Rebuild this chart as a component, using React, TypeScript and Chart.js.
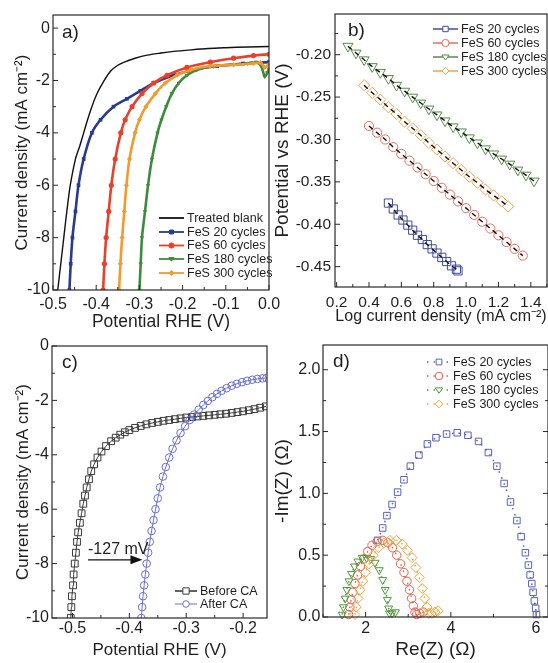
import React, { useEffect, useRef } from 'react';
import { Chart, registerables } from 'chart.js';

Chart.register(...registerables);

const FONT = '"Liberation Sans", Arial, Helvetica, sans-serif';
const INK = '#1f1f1f';

// ---------------- a) polarization curves ----------------
const aLabels = ['Treated blank', 'FeS 20 cycles', 'FeS 60 cycles', 'FeS 180 cycles', 'FeS 300 cycles'];
const aColors = ['#111111', '#2b3a8f', '#e8402a', '#3d8b3d', '#f39a2e'];
const aBlankV = [-0.489, -0.482, -0.475, -0.468, -0.46, -0.448, -0.438, -0.429, -0.42, -0.41, -0.398, -0.385, -0.367, -0.35, -0.335, -0.31, -0.282, -0.25, -0.221, -0.18, -0.14, -0.1, -0.05, 0.0];
const aBlankJ = [-10, -9, -8, -7, -6, -5, -4.5, -4, -3.5, -3.0, -2.5, -2.1, -1.65, -1.42, -1.3, -1.15, -1.03, -0.95, -0.89, -0.83, -0.78, -0.75, -0.72, -0.7];
const aFeS20V = [-0.462, -0.459, -0.455, -0.448, -0.441, -0.429, -0.41, -0.39, -0.36, -0.329, -0.298, -0.267, -0.221, -0.175, -0.12, -0.06, 0.0];
const aFeS20J = [-10, -9, -8, -7, -6, -5, -4, -3.5, -3, -2.7, -2.4, -2.1, -1.8, -1.6, -1.45, -1.35, -1.3];
const aFeS60V = [-0.384, -0.381, -0.377, -0.371, -0.365, -0.356, -0.343, -0.333, -0.317, -0.294, -0.267, -0.236, -0.19, -0.136, -0.082, -0.036, 0.0];
const aFeS60J = [-10, -9, -8, -7, -6, -5, -4, -3.5, -3, -2.5, -2.1, -1.8, -1.5, -1.3, -1.15, -1.05, -1.0];
const aFeS180V = [-0.3, -0.297, -0.294, -0.287, -0.28, -0.271, -0.258, -0.249, -0.238, -0.225, -0.209, -0.19, -0.167, -0.128, -0.082, -0.05, -0.03, -0.018, -0.01, -0.004, 0.0];
const aFeS180J = [-10, -9, -8, -7, -6, -5, -4, -3.5, -3, -2.5, -2.1, -1.8, -1.6, -1.45, -1.4, -1.35, -1.3, -1.45, -1.85, -1.7, -1.55];
const aFeS300V = [-0.347, -0.344, -0.34, -0.335, -0.33, -0.323, -0.31, -0.3, -0.285, -0.263, -0.24, -0.213, -0.182, -0.136, -0.082, -0.036, -0.02, -0.01, 0.0];
const aFeS300J = [-10, -9, -8, -7, -6, -5, -4, -3.5, -3, -2.5, -2.1, -1.8, -1.6, -1.45, -1.4, -1.35, -1.32, -1.5, -1.38];
const aXTicks = [-0.5, -0.4, -0.3, -0.2, -0.1, 0.0];
const aYTicks = [-10, -8, -6, -4, -2, 0];

// ---------------- b) Tafel plots ----------------
const bLabels = ['FeS 20 cycles', 'FeS 60 cycles', 'FeS 180 cycles', 'FeS 300 cycles'];
const bColors = ['#454c9c', '#e07060', '#5b8a4c', '#f0a254'];
const b20X = [0.52, 0.55, 0.58, 0.61, 0.64, 0.67, 0.7, 0.73, 0.76, 0.79, 0.82, 0.85, 0.88, 0.91, 0.94, 0.95];
const b20Y = [-0.375, -0.382, -0.389, -0.395, -0.401, -0.407, -0.413, -0.418, -0.424, -0.429, -0.434, -0.439, -0.444, -0.449, -0.453, -0.455];
const b60X = [0.4, 0.45, 0.5, 0.55, 0.6, 0.65, 0.7, 0.75, 0.8, 0.85, 0.9, 0.95, 1.0, 1.05, 1.1, 1.15, 1.2, 1.25, 1.3, 1.35];
const b60Y = [-0.284, -0.292, -0.3, -0.309, -0.317, -0.325, -0.333, -0.341, -0.349, -0.357, -0.365, -0.373, -0.381, -0.389, -0.397, -0.405, -0.413, -0.421, -0.429, -0.437];
const b180X = [0.27, 0.32, 0.37, 0.42, 0.47, 0.52, 0.57, 0.62, 0.67, 0.72, 0.77, 0.82, 0.87, 0.92, 0.97, 1.02, 1.07, 1.12, 1.17, 1.22, 1.27, 1.32, 1.37, 1.42];
const b180Y = [-0.19, -0.198, -0.206, -0.214, -0.221, -0.228, -0.236, -0.243, -0.25, -0.257, -0.264, -0.271, -0.278, -0.285, -0.291, -0.298, -0.304, -0.311, -0.317, -0.323, -0.329, -0.336, -0.342, -0.349];
const b300X = [0.37, 0.42, 0.47, 0.52, 0.57, 0.62, 0.67, 0.72, 0.77, 0.82, 0.87, 0.92, 0.97, 1.02, 1.07, 1.12, 1.17, 1.22, 1.26];
const b300Y = [-0.236, -0.245, -0.253, -0.262, -0.27, -0.279, -0.287, -0.295, -0.304, -0.312, -0.32, -0.328, -0.336, -0.344, -0.351, -0.359, -0.366, -0.373, -0.379];
const bXTicks = [0.2, 0.4, 0.6, 0.8, 1.0, 1.2, 1.4];
const bYTicks = [-0.45, -0.4, -0.35, -0.3, -0.25, -0.2];

// ---------------- c) before / after CA ----------------
const cLabels = ['Before CA', 'After CA'];
const cColors = ['#3a3a3a', '#6a6fcf'];
const cBeforeV = [-0.503, -0.502, -0.501, -0.499, -0.498, -0.496, -0.494, -0.492, -0.49, -0.487, -0.484, -0.481, -0.478, -0.475, -0.471, -0.467, -0.462, -0.456, -0.449, -0.441, -0.432, -0.424, -0.416, -0.408, -0.4, -0.39, -0.38, -0.37, -0.36, -0.35, -0.34, -0.33, -0.32, -0.31, -0.3, -0.29, -0.28, -0.27, -0.26, -0.25, -0.24, -0.23, -0.22, -0.21, -0.2, -0.19, -0.18, -0.17, -0.16];
const cBeforeJ = [-10.0, -9.6, -9.2, -8.8, -8.4, -8.0, -7.6, -7.2, -6.85, -6.5, -6.15, -5.8, -5.5, -5.2, -4.9, -4.6, -4.35, -4.1, -3.88, -3.68, -3.5, -3.37, -3.26, -3.17, -3.09, -3.01, -2.94, -2.88, -2.83, -2.79, -2.75, -2.72, -2.69, -2.66, -2.63, -2.61, -2.59, -2.57, -2.55, -2.53, -2.51, -2.49, -2.46, -2.43, -2.4, -2.36, -2.32, -2.27, -2.22];
const cAfterV = [-0.379, -0.3775, -0.376, -0.374, -0.372, -0.3695, -0.367, -0.364, -0.361, -0.3575, -0.354, -0.35, -0.346, -0.341, -0.336, -0.33, -0.324, -0.317, -0.31, -0.302, -0.294, -0.286, -0.278, -0.27, -0.262, -0.254, -0.246, -0.238, -0.229, -0.22, -0.211, -0.202, -0.193, -0.184, -0.175, -0.166, -0.159];
const cAfterJ = [-10.0, -9.6, -9.2, -8.8, -8.4, -8.0, -7.6, -7.2, -6.8, -6.4, -6.0, -5.6, -5.2, -4.8, -4.45, -4.1, -3.78, -3.47, -3.2, -2.95, -2.72, -2.52, -2.34, -2.17, -2.02, -1.88, -1.76, -1.65, -1.55, -1.46, -1.39, -1.33, -1.28, -1.24, -1.21, -1.19, -1.18];
const cArrowFromV = -0.4726;
const cArrowToV = -0.377;
const cArrowJ = -7.86;
const cArrowText = '-127 mV';
const cXTicks = [-0.5, -0.4, -0.3, -0.2];
const cYTicks = [-10, -8, -6, -4, -2, 0];

// ---------------- d) Nyquist ----------------
const dLabels = ['FeS 20 cycles', 'FeS 60 cycles', 'FeS 180 cycles', 'FeS 300 cycles'];
const dColors = ['#5a62b4', '#e0644c', '#4f9a3e', '#f0a444'];
const d20Re = [2.28, 2.4, 2.5, 2.62, 2.75, 2.9, 3.05, 3.25, 3.45, 3.65, 3.9, 4.15, 4.4, 4.65, 4.88, 5.08, 5.25, 5.4, 5.55, 5.65, 5.75, 5.82, 5.86, 5.9, 5.93, 5.96, 5.99, 6.01];
const d20Im = [0.62, 0.72, 0.82, 0.91, 1.01, 1.11, 1.22, 1.31, 1.4, 1.45, 1.48, 1.49, 1.47, 1.42, 1.33, 1.22, 1.08, 0.93, 0.78, 0.65, 0.52, 0.42, 0.34, 0.27, 0.2, 0.13, 0.07, 0.02];
const d60Re = [1.6, 1.63, 1.66, 1.7, 1.75, 1.81, 1.88, 1.96, 2.05, 2.15, 2.27, 2.4, 2.52, 2.63, 2.73, 2.82, 2.9, 2.97, 3.03, 3.08, 3.12, 3.16, 3.2, 3.27, 3.35];
const d60Im = [0.02, 0.08, 0.14, 0.2, 0.27, 0.34, 0.41, 0.47, 0.53, 0.58, 0.61, 0.62, 0.6, 0.56, 0.5, 0.43, 0.36, 0.29, 0.22, 0.15, 0.09, 0.04, 0.02, 0.03, 0.04];
const d180Re = [1.45, 1.48, 1.52, 1.56, 1.61, 1.67, 1.74, 1.82, 1.92, 2.02, 2.12, 2.22, 2.32, 2.4, 2.46, 2.51, 2.54, 2.56, 2.62, 2.7];
const d180Im = [0.02, 0.08, 0.15, 0.22, 0.29, 0.35, 0.41, 0.45, 0.48, 0.48, 0.47, 0.44, 0.38, 0.3, 0.22, 0.14, 0.07, 0.03, 0.03, 0.04];
const d300Re = [1.75, 1.78, 1.82, 1.87, 1.93, 2.0, 2.08, 2.18, 2.3, 2.43, 2.57, 2.72, 2.86, 2.98, 3.09, 3.18, 3.26, 3.33, 3.39, 3.44, 3.48, 3.55, 3.63, 3.7];
const d300Im = [0.02, 0.08, 0.15, 0.22, 0.29, 0.36, 0.43, 0.5, 0.56, 0.6, 0.62, 0.62, 0.59, 0.54, 0.48, 0.4, 0.32, 0.23, 0.15, 0.08, 0.03, 0.03, 0.04, 0.05];
const dXTicks = [2, 4, 6];
const dYTicks = [0.0, 0.5, 1.0, 1.5, 2.0];

// ---------------- helpers ----------------
const pts = (xs: number[], ys: number[]) => xs.map((x, i) => ({ x, y: ys[i] }));
const HOLLOW = 'rgba(255,255,255,0)';

function drawMarker(ctx: CanvasRenderingContext2D, style: string, x: number, y: number, r: number, stroke: string, fill: string) {
  ctx.save();
  ctx.beginPath();
  if (style === 'circle') ctx.arc(x, y, r, 0, Math.PI * 2);
  else if (style === 'rect') { const s = r * 0.75; ctx.rect(x - s, y - s, 2 * s, 2 * s); }
  else if (style === 'triDown') { ctx.moveTo(x - r, y - r * 0.55); ctx.lineTo(x + r, y - r * 0.55); ctx.lineTo(x, y + r * 0.85); ctx.closePath(); }
  else if (style === 'diamond') { ctx.moveTo(x, y - r); ctx.lineTo(x + r, y); ctx.lineTo(x, y + r); ctx.lineTo(x - r, y); ctx.closePath(); }
  ctx.fillStyle = fill;
  ctx.fill();
  ctx.strokeStyle = stroke;
  ctx.lineWidth = 1;
  ctx.stroke();
  ctx.restore();
}

type Box = { x: number; y: number; w: number; h: number };
type LegendItem = { label: string; color: string; marker?: string; r?: number; fill?: string; dash?: number[]; lw?: number };

function drawLegend(ctx: CanvasRenderingContext2D, box: Box, items: LegendItem[], x1: number, x2: number, tx: number, rows: number[], size: number) {
  ctx.save();
  ctx.font = `${size}px ${FONT}`;
  ctx.textBaseline = 'middle';
  ctx.textAlign = 'left';
  items.forEach((it, i) => {
    const y = rows[i] - box.y;
    ctx.beginPath();
    ctx.setLineDash(it.dash || []);
    ctx.strokeStyle = it.color;
    ctx.lineWidth = it.lw || 1.5;
    ctx.moveTo(x1 - box.x, y);
    ctx.lineTo(x2 - box.x, y);
    ctx.stroke();
    ctx.setLineDash([]);
    if (it.marker) drawMarker(ctx, it.marker, (x1 + x2) / 2 - box.x, y, it.r || 3, it.color, it.fill || '#ffffff');
    ctx.fillStyle = INK;
    ctx.fillText(it.label, tx - box.x, y + 0.5);
  });
  ctx.restore();
}

function drawPanelLabel(ctx: CanvasRenderingContext2D, box: Box, text: string, x: number, y: number) {
  ctx.save();
  ctx.font = `19px ${FONT}`;
  ctx.fillStyle = INK;
  ctx.textBaseline = 'middle';
  ctx.textAlign = 'left';
  ctx.fillText(text, x - box.x, y - box.y);
  ctx.restore();
}

type AxisDef = {
  min: number; max: number; ticks: number[]; minor: number; fmt: (v: number) => string;
  title: string; titleSize: number; titlePad: number; tickSize: number; labelPad: number;
};
type PanelDef = {
  box: Box; area: { l: number; t: number; r: number; b: number };
  x: AxisDef; y: AxisDef; datasets: any[]; rightTicks?: boolean;
  decor: (chart: any, box: Box) => void;
};

function drawFrame(chart: any, def: PanelDef) {
  const { ctx, chartArea: a } = chart;
  const xs = chart.scales.x;
  const ys = chart.scales.y;
  ctx.save();
  ctx.strokeStyle = '#2a2a2a';
  ctx.lineWidth = 1.2;
  ctx.strokeRect(a.left, a.top, a.right - a.left, a.bottom - a.top);
  ctx.lineWidth = 1;
  ctx.beginPath();
  const isMajor = (v: number, ticks: number[]) => ticks.some((t) => Math.abs(t - v) < 1e-7);
  const n0 = Math.ceil(xs.min / def.x.minor - 1e-6);
  const n1 = Math.floor(xs.max / def.x.minor + 1e-6);
  for (let n = n0; n <= n1; n++) {
    const v = n * def.x.minor;
    const p = xs.getPixelForValue(v);
    const len = isMajor(v, def.x.ticks) ? 5 : 3;
    ctx.moveTo(p, a.bottom);
    ctx.lineTo(p, a.bottom - len);
  }
  const m0 = Math.ceil(ys.min / def.y.minor - 1e-6);
  const m1 = Math.floor(ys.max / def.y.minor + 1e-6);
  for (let n = m0; n <= m1; n++) {
    const v = n * def.y.minor;
    const p = ys.getPixelForValue(v);
    const len = isMajor(v, def.y.ticks) ? 5 : 3;
    ctx.moveTo(a.left, p);
    ctx.lineTo(a.left + len, p);
    if (def.rightTicks) {
      ctx.moveTo(a.right, p);
      ctx.lineTo(a.right - len, p);
    }
  }
  ctx.stroke();
  ctx.restore();
}

function buildConfig(def: PanelDef): any {
  const { box, area } = def;
  return {
    type: 'scatter',
    data: { datasets: def.datasets },
    options: {
      animation: false,
      responsive: false,
      maintainAspectRatio: false,
      devicePixelRatio: 1,
      events: [],
      layout: { padding: { left: 0, top: area.t - box.y, right: box.x + box.w - area.r, bottom: 0 } },
      plugins: { legend: { display: false }, tooltip: { enabled: false }, title: { display: false } },
      scales: {
        x: {
          type: 'linear', position: 'bottom', min: def.x.min, max: def.x.max, bounds: 'data',
          grid: { display: false, drawTicks: false }, border: { display: false },
          afterBuildTicks: (s: any) => { s.ticks = def.x.ticks.map((v) => ({ value: v })); },
          afterFit: (s: any) => { s.height = box.y + box.h - area.b; s.paddingLeft = 0; s.paddingRight = 0; },
          ticks: {
            autoSkip: false, maxRotation: 0, minRotation: 0, padding: def.x.labelPad, color: INK,
            font: { family: FONT, size: def.x.tickSize, lineHeight: 1.2 },
            callback: (v: any) => def.x.fmt(Number(v)),
          },
          title: {
            display: true, text: def.x.title, color: INK,
            font: { family: FONT, size: def.x.titleSize, lineHeight: 1.2 },
            padding: { top: 0, bottom: def.x.titlePad },
          },
        },
        y: {
          type: 'linear', position: 'left', min: def.y.min, max: def.y.max, bounds: 'data',
          grid: { display: false, drawTicks: false }, border: { display: false },
          afterBuildTicks: (s: any) => { s.ticks = def.y.ticks.map((v) => ({ value: v })); },
          afterFit: (s: any) => { s.width = area.l - box.x; s.paddingTop = 0; s.paddingBottom = 0; },
          ticks: {
            autoSkip: false, padding: def.y.labelPad, color: INK,
            font: { family: FONT, size: def.y.tickSize, lineHeight: 1.2 },
            callback: (v: any) => def.y.fmt(Number(v)),
          },
          title: {
            display: true, text: def.y.title, color: INK,
            font: { family: FONT, size: def.y.titleSize, lineHeight: 1.2 },
            padding: { top: def.y.titlePad, bottom: 0 },
          },
        },
      },
    },
    plugins: [
      {
        id: 'frameDecor',
        afterDraw: (chart: any) => {
          drawFrame(chart, def);
          def.decor(chart, box);
        },
      },
    ],
  };
}

// ---------------- panel definitions ----------------
const CD = 'Current density (mA cm\u207B\u00B2)';

function panelA(): PanelDef {
  const box = { x: 0, y: 0, w: 292, h: 340 };
  const styles = ['', 'rect', 'circle', 'triangle', 'rectRot'];
  const series = [
    [aBlankV, aBlankJ], [aFeS20V, aFeS20J], [aFeS60V, aFeS60J], [aFeS180V, aFeS180J], [aFeS300V, aFeS300J],
  ];
  const datasets = series.map(([xs, ys], i) => ({
    label: aLabels[i],
    data: pts(xs, ys),
    showLine: true,
    borderColor: aColors[i],
    borderWidth: i === 0 ? 1.4 : 2.6,
    pointRadius: i === 0 ? 0 : 2.6,
    pointStyle: styles[i] || 'circle',
    pointRotation: i === 3 ? 180 : 0,
    pointBackgroundColor: aColors[i],
    pointBorderColor: aColors[i],
    pointBorderWidth: 0,
    tension: 0.3,
    order: 5 - i,
  }));
  return {
    box,
    area: { l: 53, t: 15, r: 269, b: 290 },
    x: { min: -0.5, max: 0.0, ticks: aXTicks, minor: 0.05, fmt: (v) => v.toFixed(1), title: 'Potential RHE (V)', titleSize: 17.5, titlePad: 7.5, tickSize: 16, labelPad: 4.5 },
    y: { min: -10, max: 0.5, ticks: aYTicks, minor: 1, fmt: (v) => v.toFixed(0), title: CD, titleSize: 17, titlePad: 12.5, tickSize: 16, labelPad: 3 },
    datasets,
    decor: (chart, b) => {
      const ctx = chart.ctx;
      drawPanelLabel(ctx, b, 'a)', 62, 33);
      const markers = ['', 'rect', 'circle', 'triDown', 'diamond'];
      const items: LegendItem[] = aLabels.map((l, i) => ({ label: l, color: aColors[i], marker: markers[i] || undefined, r: 2.6, fill: aColors[i], lw: 1.8 }));
      drawLegend(ctx, b, items, 159, 184, 187, [218, 232, 245.5, 259, 273], 12.5);
    },
  };
}

function panelB(): PanelDef {
  const box = { x: 262, y: 0, w: 292, h: 340 };
  const series = [[b20X, b20Y], [b60X, b60Y], [b180X, b180Y], [b300X, b300Y]];
  const styles = ['rect', 'circle', 'triangle', 'rectRot'];
  const radii = [5.8, 4.6, 5.8, 5.6];
  const markerSets = series.map(([xs, ys], i) => ({
    label: bLabels[i],
    data: pts(xs, ys),
    showLine: false,
    pointStyle: styles[i],
    pointRotation: i === 2 ? 180 : 0,
    pointRadius: radii[i],
    pointBorderWidth: 1,
    pointBorderColor: bColors[i],
    pointBackgroundColor: HOLLOW,
    order: 2,
    clip: false,
  }));
  const fitSets = series.map(([xs, ys], i) => ({
    label: bLabels[i] + ' fit',
    data: pts(xs, ys),
    showLine: true,
    borderColor: '#111111',
    borderWidth: 1.4,
    borderDash: [5, 4],
    pointRadius: 0,
    tension: 0.3,
    order: 1,
  }));
  return {
    box,
    area: { l: 335, t: 14, r: 547, b: 287 },
    x: { min: 0.19, max: 1.5, ticks: bXTicks, minor: 0.1, fmt: (v) => v.toFixed(1), title: 'Log current density (mA cm\u207B\u00B2)', titleSize: 16, titlePad: 14, tickSize: 15.5, labelPad: 6.5 },
    y: { min: -0.474, max: -0.152, ticks: bYTicks, minor: 0.025, fmt: (v) => v.toFixed(2), title: 'Potential vs RHE (V)', titleSize: 19, titlePad: 9.5, tickSize: 15.5, labelPad: 4 },
    datasets: [...markerSets, ...fitSets],
    decor: (chart, b) => {
      const ctx = chart.ctx;
      drawPanelLabel(ctx, b, 'b)', 348, 31);
      const markers = ['rect', 'circle', 'triDown', 'diamond'];
      const items: LegendItem[] = bLabels.map((l, i) => ({ label: l, color: bColors[i], marker: markers[i], r: 3.6, lw: 1.5 }));
      drawLegend(ctx, b, items, 433, 458, 461, [29, 43, 57, 71], 12.5);
    },
  };
}

function panelC(): PanelDef {
  const box = { x: 0, y: 325, w: 274, h: 338 };
  const datasets = [
    {
      label: cLabels[0], data: pts(cBeforeV, cBeforeJ), showLine: true, borderColor: cColors[0], borderWidth: 1,
      pointStyle: 'rect', pointRadius: 4.8, pointBorderWidth: 1, pointBorderColor: cColors[0], pointBackgroundColor: HOLLOW, order: 2,
    },
    {
      label: cLabels[1], data: pts(cAfterV, cAfterJ), showLine: true, borderColor: cColors[1], borderWidth: 1,
      pointStyle: 'circle', pointRadius: 3.8, pointBorderWidth: 1, pointBorderColor: cColors[1], pointBackgroundColor: HOLLOW, order: 1,
    },
  ];
  return {
    box,
    area: { l: 52, t: 346, r: 267, b: 618 },
    x: { min: -0.536, max: -0.158, ticks: cXTicks, minor: 0.05, fmt: (v) => v.toFixed(1), title: 'Potential RHE (V)', titleSize: 17, titlePad: 2.5, tickSize: 16, labelPad: 0.5 },
    y: { min: -10, max: 0, ticks: cYTicks, minor: 1, fmt: (v) => v.toFixed(0), title: CD, titleSize: 17, titlePad: 13.5, tickSize: 16, labelPad: 3 },
    datasets,
    decor: (chart, b) => {
      const ctx = chart.ctx;
      const xs = chart.scales.x;
      const ys = chart.scales.y;
      drawPanelLabel(ctx, b, 'c)', 62, 363);
      const x1 = xs.getPixelForValue(cArrowFromV);
      const x2 = xs.getPixelForValue(cArrowToV);
      const y = ys.getPixelForValue(cArrowJ);
      ctx.save();
      ctx.strokeStyle = '#111';
      ctx.fillStyle = '#111';
      ctx.lineWidth = 1.2;
      ctx.beginPath();
      ctx.moveTo(x1, y);
      ctx.lineTo(x2 - 10, y);
      ctx.stroke();
      ctx.beginPath();
      ctx.moveTo(x2, y);
      ctx.lineTo(x2 - 12, y - 4.5);
      ctx.lineTo(x2 - 12, y + 4.5);
      ctx.closePath();
      ctx.fill();
      ctx.font = `16px ${FONT}`;
      ctx.textAlign = 'center';
      ctx.textBaseline = 'bottom';
      ctx.fillStyle = INK;
      ctx.fillText(cArrowText, (x1 + x2) / 2 + 3, y - 2);
      ctx.restore();
      const items: LegendItem[] = [
        { label: cLabels[0], color: cColors[0], marker: 'rect', r: 4.2, lw: 1.6 },
        { label: cLabels[1], color: cColors[1], marker: 'circle', r: 3.3, lw: 1 },
      ];
      drawLegend(ctx, b, items, 175, 197, 200, [591, 604], 12.5);
    },
  };
}

function panelD(): PanelDef {
  const box = { x: 262, y: 325, w: 292, h: 338 };
  const series = [[d20Re, d20Im], [d60Re, d60Im], [d180Re, d180Im], [d300Re, d300Im]];
  const styles = ['rect', 'circle', 'triangle', 'rectRot'];
  const radii = [4.6, 4.2, 4.6, 5];
  const datasets = series.map(([xs, ys], i) => ({
    label: dLabels[i],
    data: pts(xs, ys),
    showLine: true,
    borderColor: dColors[i],
    borderWidth: 1.5,
    borderDash: [1.5, 5],
    pointStyle: styles[i],
    pointRotation: i === 2 ? 180 : 0,
    pointRadius: radii[i],
    pointBorderWidth: 1,
    pointBorderColor: dColors[i],
    pointBackgroundColor: HOLLOW,
    order: 4 - i,
    clip: false,
  }));
  return {
    box,
    area: { l: 323, t: 345, r: 549, b: 617 },
    x: { min: 1.0, max: 6.28, ticks: dXTicks, minor: 1, fmt: (v) => v.toFixed(0), title: 'Re(Z) (\u03A9)', titleSize: 19, titlePad: 1.5, tickSize: 16, labelPad: 1.5 },
    y: { min: 0, max: 2.2, ticks: dYTicks, minor: 0.25, fmt: (v) => v.toFixed(1), title: '-Im(Z) (\u03A9)', titleSize: 19, titlePad: 9.5, tickSize: 16, labelPad: 2.5 },
    datasets,
    rightTicks: true,
    decor: (chart, b) => {
      const ctx = chart.ctx;
      drawPanelLabel(ctx, b, 'd)', 333, 362);
      const markers = ['rect', 'circle', 'triDown', 'diamond'];
      const items: LegendItem[] = dLabels.map((l, i) => ({ label: l, color: dColors[i], marker: markers[i], r: 3.8, dash: [1.5, 5], lw: 1.5 }));
      drawLegend(ctx, b, items, 427, 451, 453, [362, 376, 390, 404], 12.5);
    },
  };
}

function Panel({ def }: { def: PanelDef }) {
  const ref = useRef<HTMLCanvasElement>(null);
  useEffect(() => {
    const canvas = ref.current;
    if (!canvas) return;
    const chart = new Chart(canvas, buildConfig(def));
    return () => chart.destroy();
  }, [def]);
  const { box } = def;
  return (
    <canvas
      ref={ref}
      width={box.w}
      height={box.h}
      style={{ position: 'absolute', left: box.x, top: box.y, width: box.w, height: box.h }}
    />
  );
}

const PANELS = [panelA(), panelB(), panelC(), panelD()];

export default function App() {
  return (
    <div style={{ position: 'absolute', left: 0, top: 0, width: 548, height: 663, background: '#ffffff', overflow: 'hidden' }}>
      {PANELS.map((p, i) => (
        <Panel key={i} def={p} />
      ))}
    </div>
  );
}
